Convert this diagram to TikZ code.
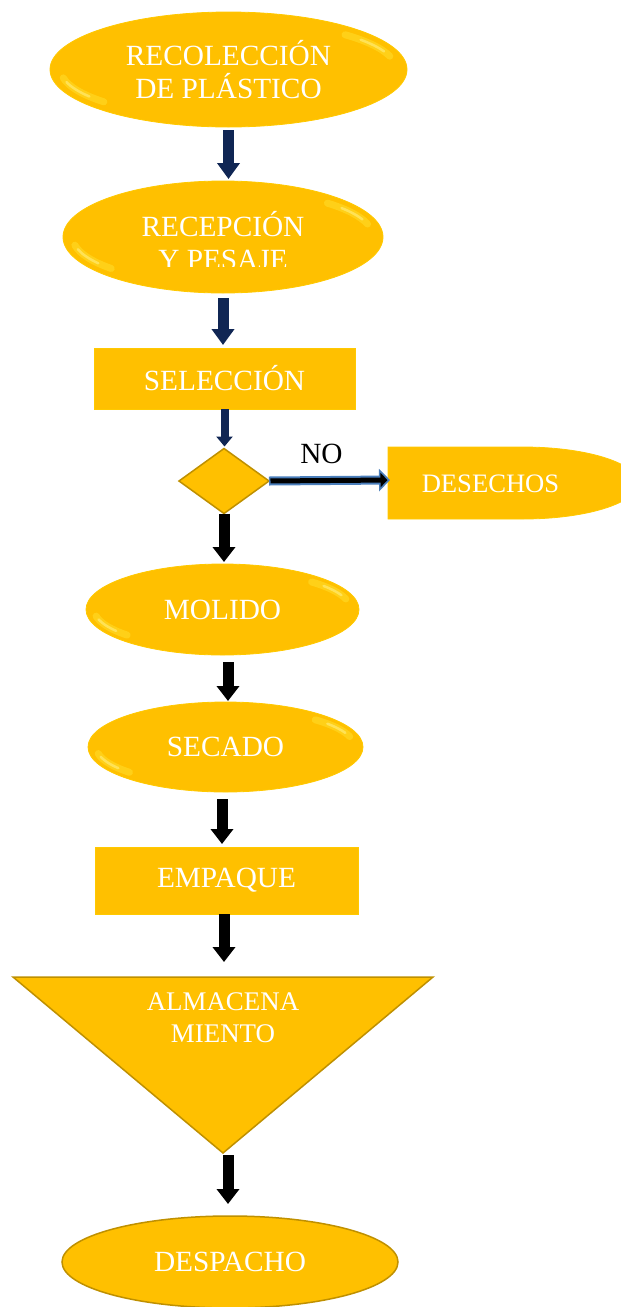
\documentclass[tikz,border=0pt]{standalone}
\usepackage{fontspec}
\setmainfont{Liberation Serif}
\usetikzlibrary{shapes.geometric,arrows.meta,calc}
\definecolor{oro}{RGB}{255,192,0}
\definecolor{oroborde}{RGB}{191,144,0}
\definecolor{brillo}{RGB}{255,232,60}
\definecolor{marino}{RGB}{16,38,84}
\definecolor{acero}{RGB}{74,126,187}

\begin{document}
\begin{tikzpicture}[x=1pt,y=-1pt,
    etapa/.style={fill=oro,draw=oro!85!yellow,line width=0.8pt,inner sep=0pt,outer sep=0pt,
      text=white,align=center,font=\fontsize{29.3}{33}\selectfont},
    ovalo/.style={etapa,ellipse},
    brillante/.style={path picture={
      \draw[brillo,line width=7pt,opacity=0.4,line cap=round]
        let \p1=(path picture bounding box.north east),\p2=(path picture bounding box.center),
        \n1={(\x1-\x2)*0.94},\n2={(\y1-\y2)*0.84} in
        ($(\p2)+({\n1*cos(190)},{\n2*sin(190)})$) arc[start angle=190,end angle=222,x radius=\n1,y radius=\n2]
        ($(\p2)+({\n1*cos(16)},{\n2*sin(16)})$) arc[start angle=16,end angle=46,x radius=\n1,y radius=\n2];
      \draw[brillo!60!white,line width=2.5pt,opacity=0.55,line cap=round]
        let \p1=(path picture bounding box.north east),\p2=(path picture bounding box.center),
        \n1={(\x1-\x2)*0.94},\n2={(\y1-\y2)*0.84} in
        ($(\p2)+({\n1*cos(195)},{\n2*sin(195)})$) arc[start angle=195,end angle=214,x radius=\n1,y radius=\n2]
        ($(\p2)+({\n1*cos(22)},{\n2*sin(22)})$) arc[start angle=22,end angle=38,x radius=\n1,y radius=\n2];}},
    caja/.style={etapa,rectangle},
    texto/.style={text=white,align=center,inner sep=0pt,font=\fontsize{29.3}{33}\selectfont},
    flecha/.style={draw=marino,line width=11pt,-{Triangle[width=22pt,length=16pt]}},
    flechita/.style={draw=marino,line width=8pt,-{Triangle[width=16pt,length=10pt]}},
    flechanegra/.style={draw=black,line width=11pt,-{Triangle[width=22pt,length=15pt]}}]
    \clip (0,0) rectangle (621,1307);

    \node[ovalo,brillante,minimum width=357pt,minimum height=115pt] (rec) at (228.5,69.5) {RECOLECCIÓN\\DE PLÁSTICO};
    \node[ovalo,brillante,minimum width=320pt,minimum height=112pt] (rp) at (223,237) {};
    \begin{scope}
      \clip (40,180) rectangle (400,266);
      \node[texto] (rpTexto) at (223,241) {RECEPCIÓN\\Y PESAJE};
    \end{scope}
    \node[caja,minimum width=261pt,minimum height=61pt] (sel) at (224.5,378.5) {SELECCIÓN};
    \node[diamond,fill=oro,draw=oroborde,line width=1.5pt,minimum width=90pt,minimum height=65pt,
      inner sep=0pt,outer sep=0pt] (dec) at (224,481) {};

    \draw[fill=oro,draw=oro!85!yellow,line width=0.8pt] (388,447) -- (523,447)
      arc[start angle=90,end angle=-90,x radius=115pt,y radius=36pt] -- (388,519) -- cycle;
    \coordinate (desIzq) at (390,480);
    \node[texto,font=\fontsize{26.6}{30}\selectfont] (des) at (490.5,484) {DESECHOS};
    \node[font=\fontsize{29.3}{33}\selectfont,inner sep=0pt] (no) at (321.5,454) {NO};

    \node[ovalo,brillante,minimum width=273pt,minimum height=91pt] (mol) at (222.5,609.5) {MOLIDO};
    \node[ovalo,brillante,minimum width=275pt,minimum height=90pt] (sec) at (225.5,747) {SECADO};
    \node[caja,minimum width=263pt,minimum height=67pt] (emp) at (226.5,880.5) {EMPAQUE};

    \draw[fill=oro,draw=oroborde,line width=1.5pt] (13,977) coordinate (almI) -- (433,977)
      -- (223,1153) coordinate (almV) -- cycle;
    \node[texto,font=\fontsize{26.9}{32}\selectfont] (alm) at (223,1018) {ALMACENA\\MIENTO};
    \node[ovalo,draw=oroborde,line width=1.5pt,minimum width=336pt,minimum height=92pt] (desp) at (230,1262) {DESPACHO};

    \draw[flecha,shorten <=3pt,shorten >=2pt] (rec.south) -- (rec.south |- rp.north);
    \draw[flecha,shorten <=5pt,shorten >=3pt] (rp.south) -- (rp.south |- sel.north);
    \draw[flechita,shorten >=2pt] (sel.south) -- (sel.south |- dec.north);
    \draw[draw=acero,line width=9pt,-{Triangle[width=22pt,length=11pt]},
      postaction={draw=black,line width=5pt,-{Triangle[width=14pt,length=7pt]},shorten >=2.5pt,shorten <=1.5pt}]
      (dec.east) -- (desIzq);
    \draw[flechanegra,shorten >=2pt] (dec.south) -- (dec.south |- mol.north);
    \draw[flechanegra,shorten <=7pt,shorten >=1pt] ([xshift=5.5pt]mol.south) -- ([xshift=5.5pt]mol.south |- sec.north);
    \draw[flechanegra,shorten <=7pt,shorten >=3pt] ([xshift=-3.5pt]sec.south) -- ([xshift=-3.5pt]sec.south |- emp.north);
    \draw[flechanegra,shorten >=15pt] ([xshift=-2.5pt]emp.south) -- ([xshift=-2.5pt]emp.south |- almI);
    \draw[flechanegra,shorten <=2pt,shorten >=12pt] ([xshift=5pt]almV) -- ([xshift=5pt]almV |- desp.north);
\end{tikzpicture}
\end{document}
